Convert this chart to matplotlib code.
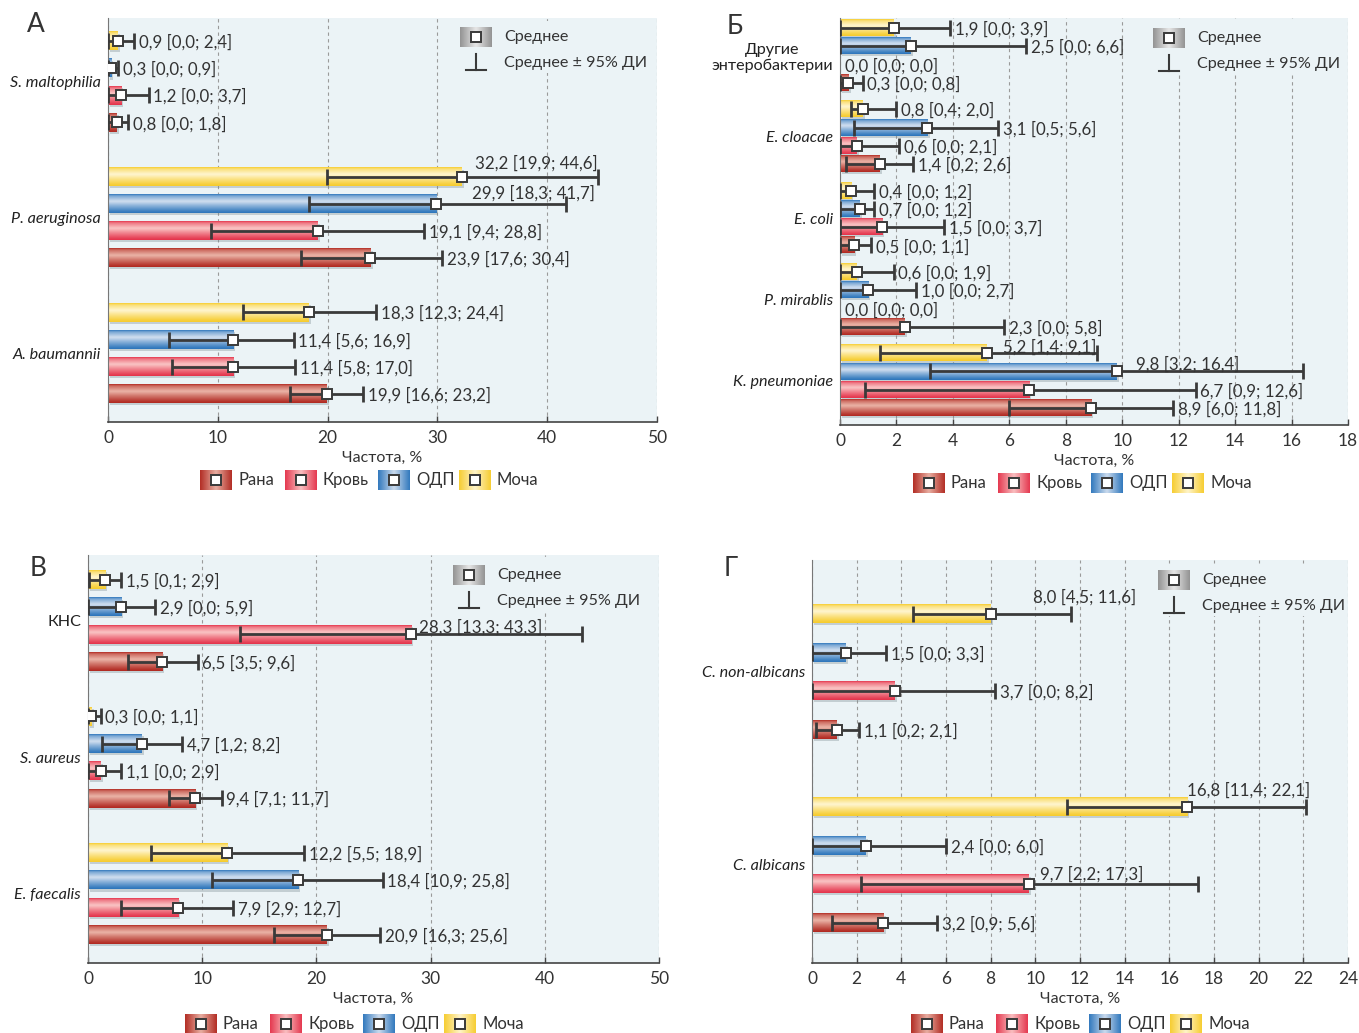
import numpy as np
import matplotlib.pyplot as plt
from matplotlib.colors import to_rgb
from matplotlib.patches import Rectangle
import matplotlib.patheffects as pe

plt.rcParams['font.family'] = ['Lato', 'DejaVu Sans']

W, H = 1359, 1033

sources = ['Рана', 'Кровь', 'ОДП', 'Моча']

# панель А (категории сверху вниз; строки: Рана, Кровь, ОДП, Моча)
a_cats = ['S. maltophilia', 'P. aeruginosa', 'A. baumannii']
a_mean = [[0.8, 23.9, 19.9], [1.2, 19.1, 11.4], [0.3, 29.9, 11.4], [0.9, 32.2, 18.3]]
a_lo = [[0.0, 17.6, 16.6], [0.0, 9.4, 5.8], [0.0, 18.3, 5.6], [0.0, 19.9, 12.3]]
a_hi = [[1.8, 30.4, 23.2], [3.7, 28.8, 17.0], [0.9, 41.7, 16.9], [2.4, 44.6, 24.4]]

# панель Б
b_cats = ['Другие\nэнтеробактерии', 'E. cloacae', 'E. coli', 'P. mirablis', 'K. pneumoniae']
b_mean = [[0.3, 1.4, 0.5, 2.3, 8.9], [0.0, 0.6, 1.5, 0.0, 6.7],
          [2.5, 3.1, 0.7, 1.0, 9.8], [1.9, 0.8, 0.4, 0.6, 5.2]]
b_lo = [[0.0, 0.2, 0.0, 0.0, 6.0], [0.0, 0.0, 0.0, 0.0, 0.9],
        [0.0, 0.5, 0.0, 0.0, 3.2], [0.0, 0.4, 0.0, 0.0, 1.4]]
b_hi = [[0.8, 2.6, 1.1, 5.8, 11.8], [0.0, 2.1, 3.7, 0.0, 12.6],
        [6.6, 5.6, 1.2, 2.7, 16.4], [3.9, 2.0, 1.2, 1.9, 9.1]]

# панель В
c_cats = ['КНС', 'S. aureus', 'E. faecalis']
c_mean = [[6.5, 9.4, 20.9], [28.3, 1.1, 7.9], [2.9, 4.7, 18.4], [1.5, 0.3, 12.2]]
c_lo = [[3.5, 7.1, 16.3], [13.3, 0.0, 2.9], [0.0, 1.2, 10.9], [0.1, 0.0, 5.5]]
c_hi = [[9.6, 11.7, 25.6], [43.3, 2.9, 12.7], [5.9, 8.2, 25.8], [2.9, 1.1, 18.9]]

# панель Г
d_cats = ['C. non-albicans', 'C. albicans']
d_mean = [[1.1, 3.2], [3.7, 9.7], [1.5, 2.4], [8.0, 16.8]]
d_lo = [[0.2, 0.9], [0.0, 2.2], [0.0, 0.0], [4.5, 11.4]]
d_hi = [[2.1, 5.6], [8.2, 17.3], [3.3, 6.0], [11.6, 22.1]]

# цвета: (край, светлая середина)
COLORS = [('#b0271f', '#ebb5a8'), ('#e4324a', '#fac6c6'),
          ('#2a74bb', '#d3e0f0'), ('#f6cb2a', '#fff6d2')]
BG = '#ebf3f6'
INK = '#3a3a3a'
VAL_FS = 12.2


def vgrad(edge, light, n=64):
    t = np.linspace(0, 1, n)
    p = np.interp(t, [0, 0.08, 0.38, 0.6, 0.88, 1], [0, 0.45, 1, 0.6, 0.15, 0])
    e, l = np.array(to_rgb(edge)), np.array(to_rgb(light))
    return (e[None, :] * (1 - p[:, None]) + l[None, :] * p[:, None])[:, None, :]


def hgrad(edge, light, n=64):
    t = np.linspace(0, 1, n)
    p = np.interp(t, [0, 0.5, 1], [0.05, 0.95, 0.05])
    e, l = np.array(to_rgb(edge)), np.array(to_rgb(light))
    return (e[None, :] * (1 - p[:, None]) + l[None, :] * p[:, None])[None, :, :]


def fmt(m, lo, hi):
    return f'{m:.1f} [{lo:.1f}; {hi:.1f}]'.replace('.', ',')


def draw_panel(ax, cats, mean, lo, hi, xmax, step, gap, bar_h, ylim, fixes):
    mean, lo, hi = np.array(mean), np.array(lo), np.array(hi)
    n = len(cats)
    centers = []
    for ci in range(n):
        base = (n - 1 - ci) * (3 + gap)
        centers.append(base + 1.5)
        for si in range(4):
            y = base + si
            m, l, h = mean[si, ci], lo[si, ci], hi[si, ci]
            if m > 0:
                ax.barh(y, m, height=bar_h, color=COLORS[si][0], zorder=2,
                        path_effects=[pe.SimplePatchShadow(offset=(1.5, -1.5), shadow_rgbFace='#7a8a90', alpha=0.35),
                                      pe.Normal()])
                ax.imshow(vgrad(*COLORS[si]), extent=(0, m, y - bar_h / 2, y + bar_h / 2),
                          aspect='auto', interpolation='bicubic', zorder=2.1)
                ax.errorbar(m, y, xerr=[[m - l], [h - m]], fmt='none', ecolor=INK,
                            elinewidth=2, capsize=5.5, capthick=2, zorder=3)
                ax.plot(m, y, marker='s', ms=7.8, mfc='white', mec=INK, mew=1.4, zorder=4)
            txt = fmt(m, l, h)
            if (ci, si) in fixes:
                fx, dy, ha = fixes[(ci, si)]
                ax.text(fx, y + dy, txt, ha=ha, va='center_baseline', fontsize=VAL_FS,
                        color='#333', zorder=5)
            else:
                ax.annotate(txt, (h, y), xytext=(3.5, 0), textcoords='offset points',
                            va='center_baseline', fontsize=VAL_FS, color='#333', zorder=5)
    ax.set_facecolor(BG)
    ax.set_xlim(0, xmax)
    ax.set_ylim(*ylim)
    ax.set_xticks(np.arange(0, xmax + 0.1, step))
    ax.set_yticks(centers)
    ax.set_yticklabels(cats, fontsize=11.6, color='#222')
    for lab in ax.get_yticklabels():
        lab.set_multialignment('center')
        if lab.get_text()[:2] in ('S.', 'P.', 'A.', 'E.', 'K.', 'C.'):
            lab.set_style('italic')
    ax.tick_params(axis='y', length=0, pad=5)
    ax.tick_params(axis='x', direction='in', length=4, width=1, color='#444',
                   labelsize=12.5, labelcolor='#333', pad=6)
    ax.grid(axis='x', linestyle=(0, (3, 3)), color='#9a9a9a', linewidth=0.8, zorder=0)
    ax.set_axisbelow(True)
    for s in ('top', 'right'):
        ax.spines[s].set_visible(False)
    ax.spines['left'].set_color('#777')
    ax.spines['bottom'].set_color('#444')
    ax.spines['bottom'].set_linewidth(1.2)
    ax.set_xlabel('Частота, %', fontsize=11.5, color='#333', labelpad=3)


def px_rect(l, t, r, b):
    return [l / W, 1 - b / H, (r - l) / W, (b - t) / H]


fig = plt.figure(figsize=(W / 100, H / 100), dpi=100)

panels = [
    (a_cats, a_mean, a_lo, a_hi, (108, 18, 657, 422), 50, 10, 2, 0.68, (-1.04, 13.85),
     {(1, 3): (44.6, 0.55, 'right'), (1, 2): (44.3, 0.45, 'right')}),
    (b_cats, b_mean, b_lo, b_hi, (840, 18, 1348, 425), 18, 2, 1.45, 0.88, (-0.93, 21.35),
     {(4, 3): (9.1, 0.38, 'right'), (4, 2): (10.5, 0.45, 'left')}),
    (c_cats, c_mean, c_lo, c_hi, (88, 555, 659, 963), 50, 10, 2, 0.68, (-1.03, 13.9),
     {(0, 1): (29.0, 0.3, 'left')}),
    (d_cats, d_mean, d_lo, d_hi, (812, 560, 1348, 963), 24, 2, 2, 0.47, (-1.04, 9.4),
     {(0, 3): (9.9, 0.47, 'left'), (1, 3): (16.8, 0.47, 'left'), (1, 1): (10.2, 0.29, 'left')}),
]

for cats, mn, lo, hi, rect, xmax, step, gap, bh, ylim, fixes in panels:
    ax = fig.add_axes(px_rect(*rect))
    draw_panel(ax, cats, mn, lo, hi, xmax, step, gap, bh, ylim, fixes)

# накладной слой в пикселях: буквы панелей и легенды
ov = fig.add_axes([0, 0, 1, 1])
ov.set_xlim(0, W)
ov.set_ylim(H, 0)
ov.axis('off')

letters = [('А', 36, 24), ('Б', 735, 26), ('В', 38, 568), ('Г', 731, 568)]
for s, x, y in letters:
    ov.text(x, y, s, fontsize=19, color='#333', ha='center', va='center')

# легенда «Среднее» внутри панелей: (x, y) левого верхнего угла серого квадрата, правый край фона
inner = [(460, 27, 654), (1153, 28, 1345), (453, 565, 656), (1158, 570, 1345)]
for x, y, right in inner:
    ov.add_patch(Rectangle((x - 10, y - 6), right - x + 10, 52, facecolor=BG, edgecolor='none', zorder=1))
    ov.imshow(hgrad('#8f8f8f', '#ececec'), extent=(x, x + 32, y + 20, y), aspect='auto',
              interpolation='bicubic', zorder=2)
    ov.plot(x + 16, y + 10, marker='s', ms=7.5, mfc='white', mec=INK, mew=1.4, zorder=3)
    ov.plot([x + 16, x + 16], [y + 27, y + 43], color=INK, lw=1.5, zorder=3)
    ov.plot([x + 6, x + 26], [y + 43, y + 43], color=INK, lw=1.5, zorder=3)
    ov.text(x + 44, y + 10, 'Среднее', fontsize=11.6, color='#333', va='center', zorder=3)
    ov.text(x + 44, y + 36, 'Среднее ± 95% ДИ', fontsize=11.6, color='#333', va='center', zorder=3)

# легенда источников под панелями
offsets = [0, 85, 178, 259]
bottom = [(200, 480), (913, 483), (185, 1024), (911, 1024)]
for x0, yc in bottom:
    for si, name in enumerate(sources):
        x = x0 + offsets[si]
        ov.imshow(hgrad(*COLORS[si]), extent=(x, x + 32, yc + 10, yc - 10), aspect='auto',
                  interpolation='bicubic', zorder=2)
        ov.plot(x + 16, yc, marker='s', ms=7.5, mfc='white', mec=INK, mew=1.4, zorder=3)
        ov.text(x + 38, yc, name, fontsize=12, color='#333', va='center', zorder=3)

ov.set_xlim(0, W)
ov.set_ylim(H, 0)

fig.savefig('out.png', dpi=100)
